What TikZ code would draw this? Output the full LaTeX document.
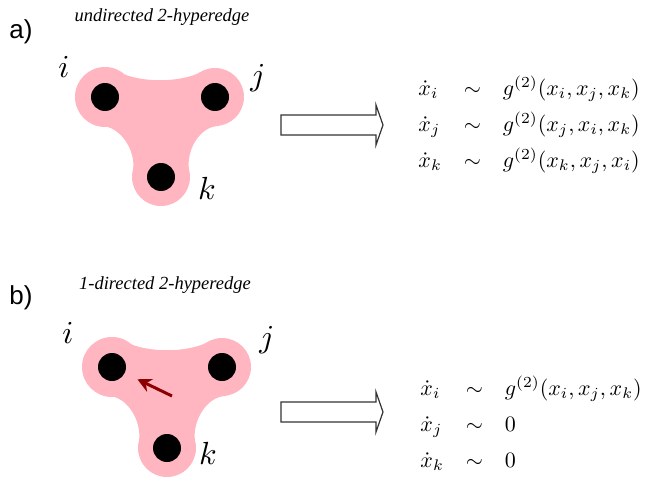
\documentclass[tikz,border=0pt]{standalone}
\usepackage{amsmath}
\usepackage{fontspec}
\newfontfamily\panelfont{Liberation Sans}
\newfontfamily\titlefont{Liberation Serif}
\usetikzlibrary{arrows.meta, calc, backgrounds}
\definecolor{blobpink}{HTML}{FFB6C1}
\definecolor{arrowred}{HTML}{8B0000}

\begin{document}
\begin{tikzpicture}[x=1pt, y=-1pt,
  vx/.style={circle, fill=black, inner sep=0pt, minimum size=28pt},
  blob/.style={fill=blobpink},
  lbl/.style={inner sep=0pt, scale=3.2},
  tag/.style={font=\panelfont\fontsize{26}{30}\selectfont, inner sep=0pt},
  ttl/.style={font=\titlefont\itshape\fontsize{18.5}{22}\selectfont, inner sep=0pt},
  eqs/.style={inner sep=0pt, anchor=west, scale=2.2},
  fat/.style={draw=black!80, line width=1.2pt, fill=white, line join=miter},
  pull/.style={-{Stealth[length=14pt, width=14pt]}, line width=3pt, arrowred, shorten >=14pt}]
\path[use as bounding box] (0,0) rectangle (651,479);

% panel a
\node[tag] (ta) at (21,32) {a)};
\node[ttl] (hea) at (162,17) {undirected 2-hyperedge};
\node[vx] (ia) at (105,97) {};
\node[vx] (ja) at (215,97) {};
\node[vx] (ka) at (161,177) {};
\node[lbl] (lia) at (64,67) {$i$};
\node[lbl] (lja) at (258,78) {$j$};
\node[lbl] (lka) at (207,188) {$k$};

% panel b
\node[tag] (tb) at (21,298) {b)};
\node[ttl] (heb) at (165,285) {1-directed 2-hyperedge};
\node[vx] (ib) at (112,367) {};
\node[vx] (jb) at (222,367) {};
\node[vx] (kb) at (167,448) {};
\node[lbl] (lib) at (68,333) {$i$};
\node[lbl] (ljb) at (267,340) {$j$};
\node[lbl] (lkb) at (208,453) {$k$};
\coordinate (tl) at (172,396);
\draw[pull] (tl) -- (ib);

% hyperedge blobs
\begin{scope}[on background layer]
\foreach \p in {a,b}{
  \fill[blob] (i\p) circle (30) (j\p) circle (29) (k\p) circle (29);
  \fill[blob] ($(i\p)+(14,-25)$) .. controls ($(i\p)+(35,-14)$) and ($(j\p)+(-35,-14)$) .. ($(j\p)+(-14,-25)$)
    -- ($(j\p)+(4,29)$) .. controls ($(j\p)+(-15,29)$) and ($(k\p)+(25,-27)$) .. ($(k\p)+(28,-7)$)
    -- ($(k\p)+(-28,-7)$) .. controls ($(k\p)+(-25,-27)$) and ($(i\p)+(15,29)$) .. ($(i\p)+(-4,29)$) -- cycle;
}
\end{scope}

% implication arrows
\foreach \y in {125,412}
  \draw[fat] (281,\y-10) -- (376,\y-10) -- (376,\y-20) -- (383,\y) -- (376,\y+20) -- (376,\y+10) -- (281,\y+10) -- cycle;

% dynamics
\node[eqs] (eqa) at (418,124) {\renewcommand{\arraystretch}{1.36}$\begin{array}{@{}l@{\hspace{10pt}}c@{\hspace{10pt}}l@{}}
  \dot{x}_i & \sim & g^{(2)}(x_i,x_j,x_k)\\
  \dot{x}_j & \sim & g^{(2)}(x_j,x_i,x_k)\\
  \dot{x}_k & \sim & g^{(2)}(x_k,x_j,x_i)
\end{array}$};
\node[eqs] (eqb) at (420,424) {\renewcommand{\arraystretch}{1.36}$\begin{array}{@{}l@{\hspace{10pt}}c@{\hspace{10pt}}l@{}}
  \dot{x}_i & \sim & g^{(2)}(x_i,x_j,x_k)\\
  \dot{x}_j & \sim & 0\\
  \dot{x}_k & \sim & 0
\end{array}$};
\end{tikzpicture}
\end{document}
